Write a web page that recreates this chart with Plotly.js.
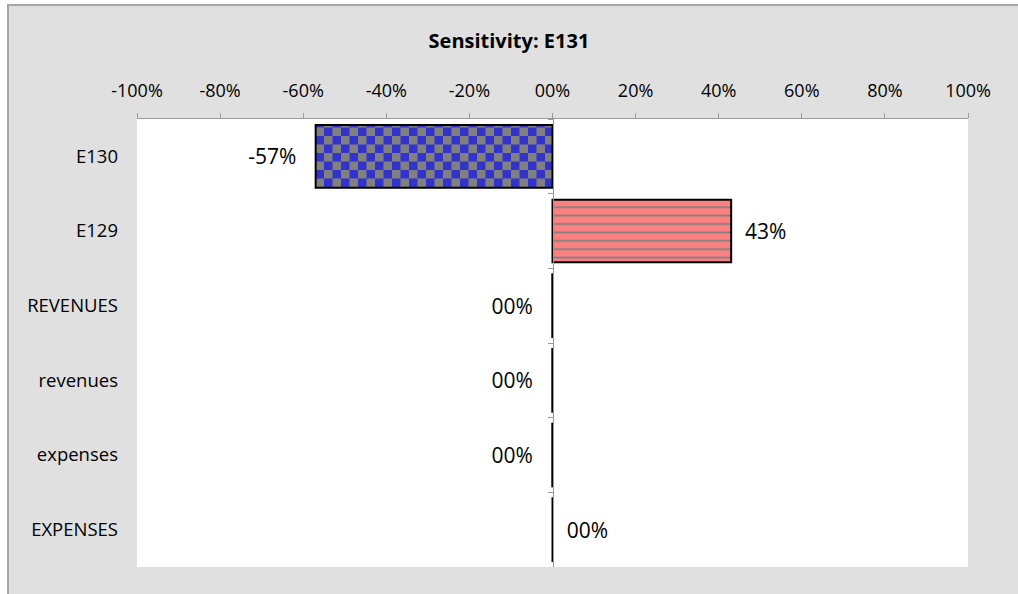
<!DOCTYPE html>
<html>
<head>
<meta charset="utf-8">
<script src="https://cdn.plot.ly/plotly-3.0.1.min.js"></script>
<style>
  html, body { margin: 0; padding: 0; background: #ffffff; }
  #frame {
    position: absolute; left: 7px; top: 4px;
    width: 1009px; height: 588px;
    border-left: 2px solid #a6a6a6; border-top: 2px solid #a6a6a6;
    background: #e0e0e0;
  }
</style>
</head>
<body>
<div id="frame"><div id="chart"></div></div>
<script>
// ---- data ----
const categories = ["E130", "E129", "REVENUES", "revenues", "expenses", "EXPENSES"];
const values = [-0.57, 0.43, -0.0005, -0.0005, -0.0005, 0.0005];
const valueLabels = ["-57%", "43%", "00%", "00%", "00%", "00%"];
const xTickVals = [-1, -0.8, -0.6, -0.4, -0.2, 0, 0.2, 0.4, 0.6, 0.8, 1];
const xTickText = ["-100%", "-80%", "-60%", "-40%", "-20%", "00%", "20%", "40%", "60%", "80%", "100%"];
const chartTitle = "Sensitivity: E131";

// ---- styles ----
const BLUE = "#3333cc", GRAY = "#808080", SALMON = "#ff8080";
const patShapes = [".", "-", "", "", "", ""];
const patBg = [GRAY, SALMON, "#000000", "#000000", "#000000", "#000000"];
const patFg = [BLUE, GRAY, "#000000", "#000000", "#000000", "#000000"];
const patSize = [17, 8.4, 8, 8, 8, 8];
const patSolid = [0.5, 0.2, 0.3, 0.3, 0.3, 0.3];
const CHECK = 8.5;     // checker square size
const STRIPE = 8.4;    // stripe period
const STRIPE_W = 1.8;  // stripe thickness
const padNeg = "\u00a0\u00a0\u00a0";
const padPos = "\u00a0\u00a0";
const labelsPadded = valueLabels.map((t, i) => values[i] < 0 ? t + padNeg : padPos + t);
const FONT = "Open Sans, sans-serif";

const barTrace = {
  type: "bar",
  orientation: "h",
  y: categories,
  x: values,
  text: labelsPadded,
  textposition: "outside",
  cliponaxis: false,
  constraintext: "none",
  textfont: { family: FONT, size: 21, color: "#000000" },
  hoverinfo: "skip",
  marker: {
    color: patBg,
    line: { color: "#000000", width: 2 },
    pattern: {
      shape: patShapes,
      bgcolor: patBg,
      fgcolor: patFg,
      size: patSize,
      solidity: patSolid,
      fillmode: "replace"
    }
  },
  showlegend: false
};

// invisible helper so the category axis through zero can draw its boundary ticks
const axisHelper = {
  type: "scatter",
  mode: "none",
  y: categories,
  x: categories.map(() => 0),
  yaxis: "y2",
  hoverinfo: "skip",
  showlegend: false
};

const layout = {
  width: 1009,
  height: 588,
  paper_bgcolor: "#e0e0e0",
  plot_bgcolor: "#ffffff",
  margin: { l: 128, r: 50, t: 113, b: 27 },
  bargap: 0.16,
  title: {
    text: "<b>" + chartTitle + "</b>",
    font: { family: FONT, size: 20, color: "#000000" },
    xref: "container", x: 0.4955, xanchor: "center",
    yref: "container", y: 0.94, yanchor: "middle"
  },
  xaxis: {
    side: "top",
    range: [-1, 1],
    tickmode: "array",
    tickvals: xTickVals,
    ticktext: xTickText,
    ticks: "outside",
    ticklen: 5,
    tickcolor: "#999999",
    ticklabelstandoff: 9,
    showline: true,
    linecolor: "#999999",
    linewidth: 1,
    showgrid: false,
    zeroline: false,
    tickfont: { family: FONT, size: 18, color: "#000000" },
    fixedrange: true
  },
  yaxis: {
    type: "category",
    categoryorder: "array",
    categoryarray: categories,
    range: [5.5, -0.5],
    showgrid: false,
    zeroline: false,
    showline: false,
    ticks: "",
    ticklabelstandoff: 18,
    tickfont: { family: FONT, size: 18.5, color: "#000000" },
    fixedrange: true
  },
  yaxis2: {
    type: "category",
    categoryorder: "array",
    categoryarray: categories,
    range: [5.5, -0.5],
    overlaying: "y",
    anchor: "free",
    position: 0.5,
    side: "left",
    showline: true,
    linecolor: "#999999",
    linewidth: 1,
    ticks: "outside",
    tickson: "boundaries",
    ticklen: 5,
    tickcolor: "#999999",
    showticklabels: false,
    showgrid: false,
    zeroline: false,
    fixedrange: true
  }
};

function restylePatterns() {
  const ns = "http://www.w3.org/2000/svg";
  const add = (p, x, y, w, h, c) => {
    const r = document.createElementNS(ns, "rect");
    r.setAttribute("x", x); r.setAttribute("y", y);
    r.setAttribute("width", w); r.setAttribute("height", h);
    r.setAttribute("fill", c);
    p.appendChild(r);
  };
  const clear = p => { while (p.firstChild) p.removeChild(p.firstChild); };
  document.querySelectorAll("#chart pattern").forEach(p => {
    if (p.querySelector("circle")) {
      const s = CHECK;
      p.setAttribute("width", 2 * s);
      p.setAttribute("height", 2 * s);
      clear(p);
      add(p, 0, 0, 2 * s, 2 * s, BLUE);
      add(p, 0, 0, s, s, GRAY);
      add(p, s, s, s, s, GRAY);
    } else if (p.querySelector("path")) {
      p.setAttribute("width", STRIPE);
      p.setAttribute("height", STRIPE);
      clear(p);
      add(p, 0, 0, STRIPE, STRIPE, SALMON);
      add(p, 0, (STRIPE - STRIPE_W) / 2, STRIPE, STRIPE_W, GRAY);
    }
  });
}

Plotly.newPlot("chart", [barTrace, axisHelper], layout, { displayModeBar: false, staticPlot: true })
  .then(restylePatterns);
</script>
</body>
</html>
